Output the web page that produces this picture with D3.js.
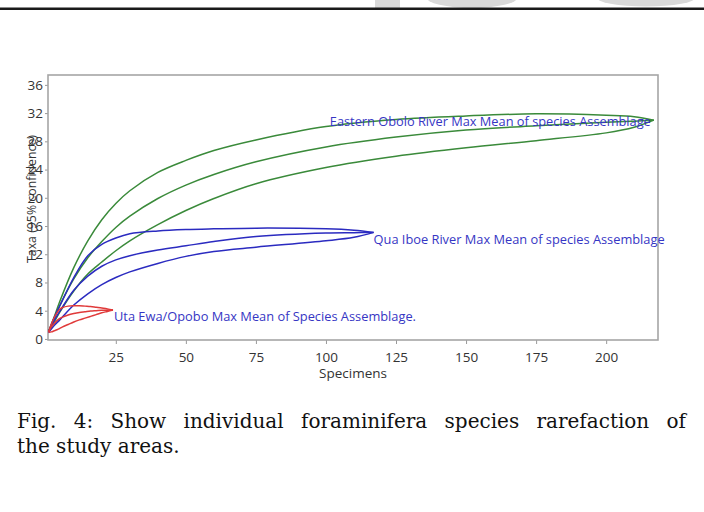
<!DOCTYPE html>
<html><head><meta charset="utf-8">
<script src="https://cdn.jsdelivr.net/npm/d3@7"></script>
<style>body{margin:0;background:#fff}svg{display:block}</style>
</head><body>
<svg id="c" width="704" height="512"></svg>
<script>
// ---- data ----
const xTicks = [25, 50, 75, 100, 125, 150, 175, 200];
const yTicks = [0, 4, 8, 12, 16, 20, 24, 28, 32, 36];
const xTitle = "Specimens";
const yTitle = "Taxa (95% confidence)";

const greenX     = [1, 3, 5, 10, 15, 20, 25, 30, 40, 50, 60, 75, 100, 125, 150, 175, 200, 210, 217];
const greenUpper = [1, 3.1, 5.3, 10.1, 13.9, 16.9, 19.2, 21.0, 23.6, 25.3, 26.7, 28.2, 30.1, 31.1, 31.6, 31.9, 31.7, 31.5, 31.0];
const greenMean  = [1, 2.9, 4.7, 8.5, 11.5, 13.8, 15.8, 17.4, 19.9, 21.8, 23.3, 25.1, 27.2, 28.6, 29.6, 30.2, 30.7, 30.85, 31.0];
const greenLower = [1, 2.4, 3.8, 6.8, 9.2, 10.9, 12.5, 13.9, 16.2, 18.2, 19.9, 22.0, 24.3, 25.9, 27.1, 28.1, 29.2, 30.0, 31.0];

const blueX     = [1, 3, 5, 10, 15, 20, 25, 30, 40, 50, 60, 75, 100, 110, 117];
const blueUpper = [1, 3.0, 4.7, 8.7, 11.8, 13.4, 14.3, 14.9, 15.3, 15.5, 15.6, 15.7, 15.6, 15.4, 15.1];
const blueMean  = [1, 2.6, 3.9, 6.9, 8.9, 10.3, 11.2, 11.8, 12.6, 13.2, 13.8, 14.5, 15.0, 15.05, 15.1];
const blueLower = [0.9, 1.9, 2.7, 4.8, 6.4, 7.7, 8.7, 9.5, 10.7, 11.7, 12.4, 13.0, 13.9, 14.4, 15.1];

const redX     = [1, 2, 3, 4, 5, 6, 8, 10, 12, 14, 16, 18, 20, 22, 24];
const redUpper = [1, 2.1, 3.0, 3.7, 4.2, 4.45, 4.65, 4.7, 4.7, 4.65, 4.6, 4.5, 4.4, 4.25, 4.1];
const redMean  = [1, 1.7, 2.2, 2.6, 2.9, 3.1, 3.4, 3.6, 3.75, 3.85, 3.95, 4.0, 4.05, 4.08, 4.1];
const redLower = [0.9, 1.0, 1.15, 1.3, 1.5, 1.7, 2.05, 2.4, 2.7, 2.95, 3.2, 3.45, 3.7, 3.9, 4.1];

const groupNames = ["Eastern Obolo River Max Mean of species Assemblage",
                    "Qua Iboe River Max Mean of species Assemblage",
                    "Uta Ewa/Opobo Max Mean of Species Assemblage."];
const captionLine1 = "Fig. 4: Show individual foraminifera species rarefaction of";
const captionLine2 = "the study areas.";

// ---- layout ----
const svg = d3.select("#c");
const L = 48, R = 658, T = 75, B = 340;
const x = d3.scaleLinear().domain([0.8, 218.5]).range([L, R]);
const y = d3.scaleLinear().domain([-0.15, 37.4]).range([B, T]);

// header rule + watermark remnants
const wm = svg.append("g").attr("fill", "#d9d9d9");
wm.append("rect").attr("x", 375).attr("y", 0).attr("width", 25).attr("height", 8);
wm.append("ellipse").attr("cx", 472).attr("cy", -3).attr("rx", 46).attr("ry", 11);
wm.append("ellipse").attr("cx", 646).attr("cy", -3).attr("rx", 50).attr("ry", 9.5);
svg.append("rect").attr("x", 0).attr("y", 7.5).attr("width", 704).attr("height", 2.5).attr("fill", "#1a1a1a");

const font = "'Open Sans', 'Noto Sans', sans-serif";

// axes
const gx = svg.append("g").attr("transform", `translate(0,${B})`)
  .call(d3.axisBottom(x).tickValues(xTicks).tickSize(4).tickPadding(8).tickFormat(d3.format("d")));
const gy = svg.append("g").attr("transform", `translate(${L},0)`)
  .call(d3.axisLeft(y).tickValues(yTicks).tickSize(3).tickPadding(2).tickFormat(d3.format("d")));
[gx, gy].forEach(g => {
  g.select(".domain").remove();
  g.selectAll(".tick line").attr("stroke", "#999");
  g.selectAll(".tick text").attr("fill", "#333").style("font-family", font).style("font-size", "13.5px");
});

// frame
svg.append("rect").attr("x", L).attr("y", T).attr("width", R - L).attr("height", B - T)
  .attr("fill", "none").attr("stroke", "#a6a6a6").attr("stroke-width", 1.6);

// titles
svg.append("text").attr("x", (L + R) / 2).attr("y", 378).attr("text-anchor", "middle")
  .style("font-family", font).style("font-size", "13.5px").attr("fill", "#333").text(xTitle);
svg.append("text").attr("transform", "translate(36,199) rotate(-90)").attr("text-anchor", "middle")
  .attr("textLength", 128).attr("lengthAdjust", "spacingAndGlyphs")
  .style("font-family", font).style("font-size", "13px").attr("fill", "#333").text(yTitle);

// curves
const line = d3.line().x(d => x(d[0])).y(d => y(d[1])).curve(d3.curveCatmullRom.alpha(0.5));
const groups = [
  {xs: greenX, series: [greenUpper, greenMean, greenLower], color: "#3a8a3a"},
  {xs: blueX,  series: [blueUpper, blueMean, blueLower],    color: "#2b2bc0"},
  {xs: redX,   series: [redUpper, redMean, redLower],       color: "#e03a3a"}
];
groups.forEach(g => {
  g.series.forEach(s => {
    svg.append("path").datum(g.xs.map((v, i) => [v, s[i]]))
      .attr("d", line).attr("fill", "none").attr("stroke", g.color).attr("stroke-width", 1.5);
  });
});

// group labels
const lblColor = "#3636c4";
const gEnd = [greenX[greenX.length - 1], greenMean[greenMean.length - 1]];
const bEnd = [blueX[blueX.length - 1], blueMean[blueMean.length - 1]];
const rEnd = [redX[redX.length - 1], redMean[redMean.length - 1]];
const lbl = (txt, px, py, anchor, len) => svg.append("text")
  .attr("x", px).attr("y", py).attr("text-anchor", anchor)
  .attr("textLength", len).attr("lengthAdjust", "spacingAndGlyphs")
  .style("font-family", font).style("font-size", "13px").attr("fill", lblColor).text(txt);
lbl(groupNames[0], x(gEnd[0]) - 3, y(gEnd[1]) + 6, "end", 321);
lbl(groupNames[1], x(bEnd[0]), y(bEnd[1]) + 12, "start", 291);
lbl(groupNames[2], x(rEnd[0]) + 1, y(rEnd[1]) + 11, "start", 302);

// caption (justified first line)
const capFont = "'DejaVu Serif', serif";
const words = captionLine1.split(" ");
const capG = svg.append("g").style("font-family", capFont).style("font-size", "20px").attr("fill", "#111");
const nodes = words.map(w => capG.append("text").attr("y", 428).text(w));
const widths = nodes.map(n => n.node().getComputedTextLength());
const total = d3.sum(widths);
const gap = (686 - 17 - total) / (words.length - 1);
let cx = 17;
nodes.forEach((n, i) => { n.attr("x", cx); cx += widths[i] + gap; });
capG.append("text").attr("x", 17).attr("y", 453).text(captionLine2);
</script>
</body></html>
